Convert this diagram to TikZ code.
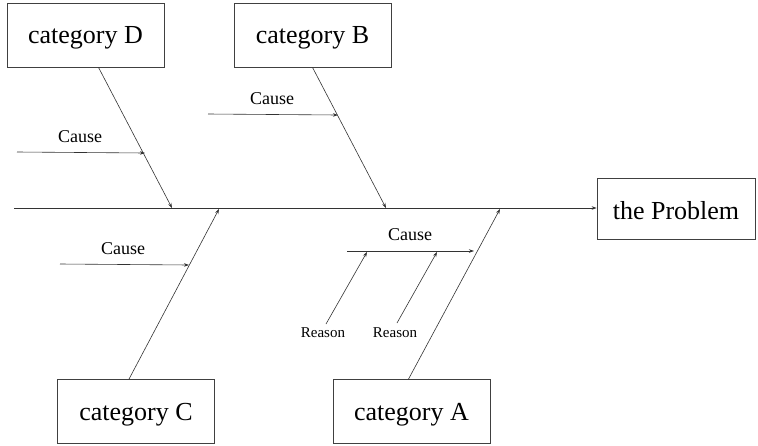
\documentclass[tikz,border=0pt]{standalone}
\usepackage{fontspec}
\setmainfont{Liberation Serif}
\usetikzlibrary{arrows.meta,calc}
\begin{document}
\begin{tikzpicture}[x=1pt,y=-1pt,
  catbox/.style={draw=black!75,line width=0.8pt,minimum width=157pt,minimum height=64pt,inner sep=0pt,
    text height=18pt,text depth=1pt,font=\fontsize{26}{28}\selectfont},
  arr/.style={draw=black!80,line width=0.6pt,-{Stealth[length=5pt,width=3.5pt]}},
  causelbl/.style={font=\fontsize{18}{20}\selectfont},
  reasonlbl/.style={font=\fontsize{15}{17}\selectfont}]
\useasboundingbox (0,0) rectangle (758,445);

% category and effect boxes
\node[catbox] (D) at (85.5,35) {category D};
\node[catbox] (B) at (312.5,35) {category B};
\node[catbox] (C) at (136,411.5) {category C};
\node[catbox] (A) at (411.5,411.5) {category A};
\node[catbox,minimum width=158pt,minimum height=61pt,text height=22pt,text depth=0pt] (P) at (676,208.5) {the Problem};

% spine
\coordinate (s0) at (14,208);
\draw[arr] (s0) -- (P.west |- s0);

% bone ends on the spine
\coordinate (dD) at (172,208);
\coordinate (dB) at (386,208);
\coordinate (dC) at (219,209);
\coordinate (dA) at (500,209);

% main bones
\draw[arr] ($(D.south)+(13,0)$) -- (dD);
\draw[arr] ($(B.south)+(0,0)$) -- (dB);
\draw[arr] ($(C.north)+(-7,0)$) -- (dC);
\draw[arr] ($(A.north)+(-3,0)$) -- (dA);

% causes
\coordinate (cD0) at (17,152);
\coordinate (cD1) at (145,153);
\draw[arr] (cD0) -- (cD1);
\node[causelbl] (lD) at (80,137) {Cause};

\coordinate (cB0) at (208,114);
\coordinate (cB1) at (338,115);
\draw[arr] (cB0) -- (cB1);
\node[causelbl] (lB) at (272,99) {Cause};

\coordinate (cC0) at (60,264);
\coordinate (cC1) at (189,265);
\draw[arr] (cC0) -- (cC1);
\node[causelbl] (lC) at (123,249) {Cause};

\coordinate (cA0) at (347,251);
\coordinate (cA1) at (474,251);
\draw[arr] (cA0) -- (cA1);
\node[causelbl] (lA) at (410,235) {Cause};

% reasons for the cause of category A
\node[reasonlbl] (r1) at (323,333) {Reason};
\node[reasonlbl] (r2) at (395,333) {Reason};
\coordinate (r1t) at (367,252);
\coordinate (r2t) at (437,252);
\draw[arr] (326,324) -- (r1t);
\draw[arr] (397,323) -- (r2t);
\end{tikzpicture}
\end{document}
